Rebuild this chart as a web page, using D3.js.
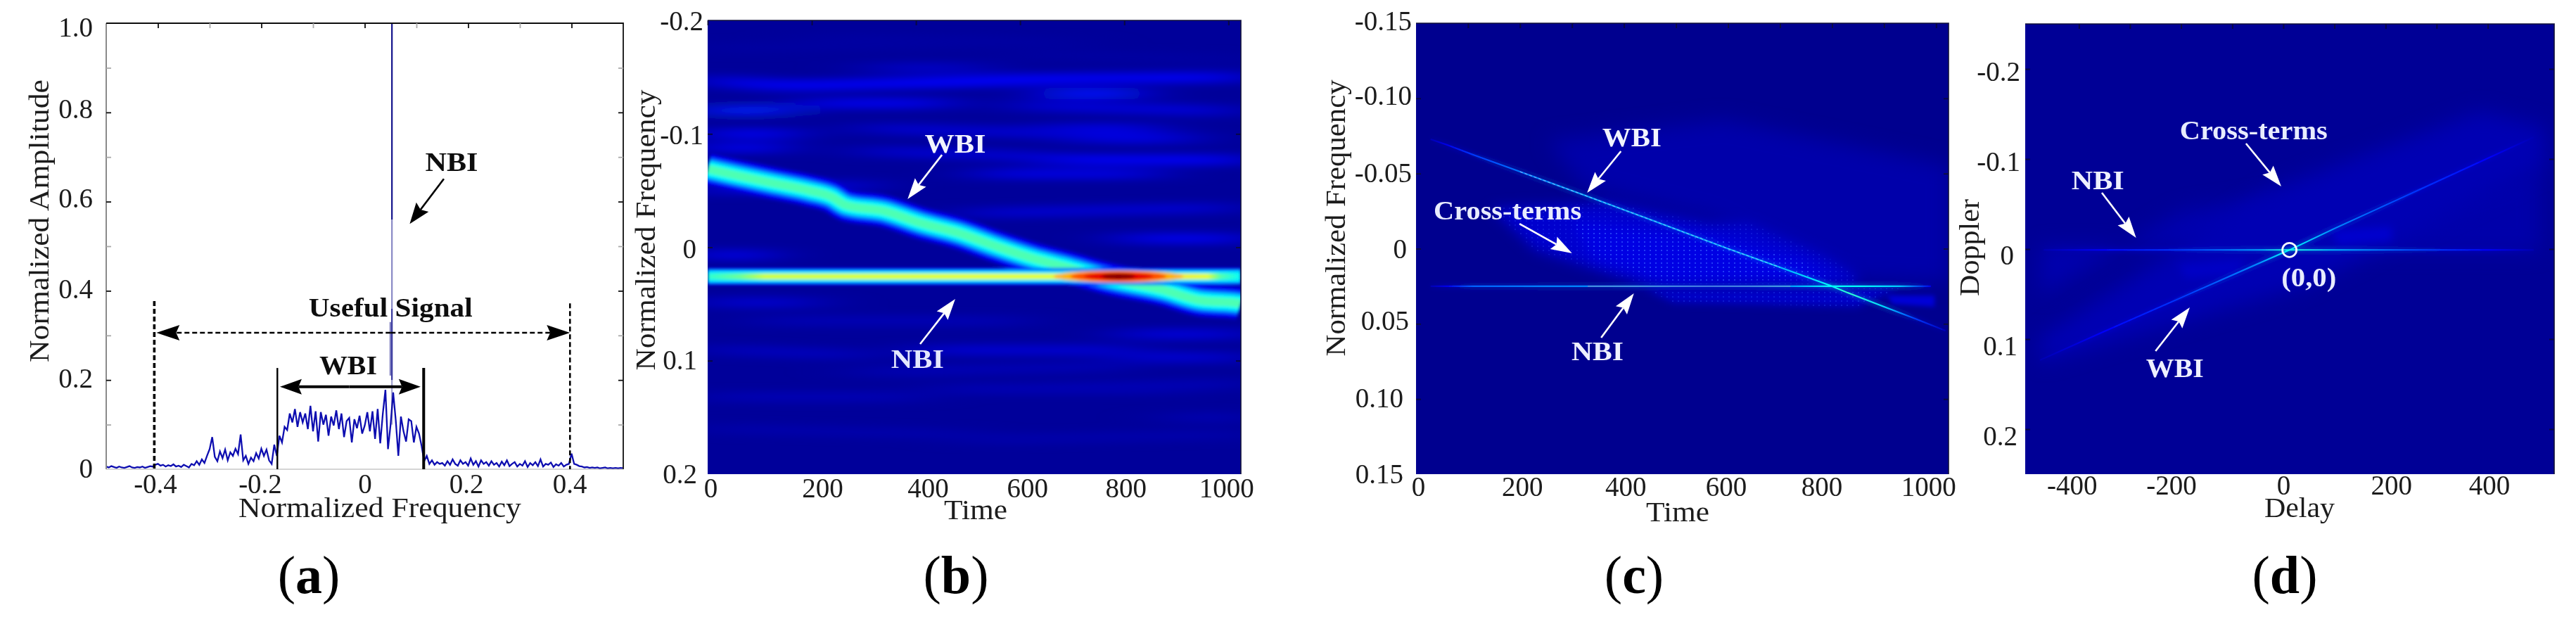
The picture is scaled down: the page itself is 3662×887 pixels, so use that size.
<!DOCTYPE html>
<html>
<head>
<meta charset="utf-8">
<script src="https://cdn.jsdelivr.net/npm/d3@7"></script>
<style>
  html, body { margin: 0; padding: 0; background: #fff; }
  svg { display: block; }
  text { font-family: "Liberation Serif", serif; }
</style>
</head>
<body>
<div id="chart"></div>
<script>
// ---- (a) spectrum, one value every 0.005 starting at -0.5
var specStart = -0.5, specStep = 0.005;
var specAmp = [
  .006,.004,.007,.005,.003,.006,.004,.003,.005,.007,.004,.003,.005,.004,.006,.003,.005,.007,.006,.010,
  .012,.008,.010,.006,.009,.007,.011,.006,.008,.005,.010,.007,.004,.012,.009,.018,.010,.022,.014,.030,
  .045,.072,.028,.018,.040,.025,.044,.020,.038,.030,.046,.034,.078,.020,.030,.012,.026,.018,.036,.024,
  .046,.030,.044,.020,.012,.055,.030,.075,.060,.095,.088,.125,.105,.135,.095,.128,.105,.125,.090,.142,
  .085,.130,.062,.128,.100,.122,.075,.118,.098,.132,.090,.125,.072,.108,.115,.060,.112,.092,.120,.080,
  .098,.128,.085,.130,.068,.135,.058,.125,.178,.045,.100,.172,.110,.030,.118,.085,.062,.112,.108,.060,
  .095,.080,.052,.018,.030,.012,.020,.010,.016,.012,.014,.008,.018,.010,.022,.012,.008,.020,.012,.016,
  .008,.024,.010,.018,.006,.020,.012,.016,.008,.018,.010,.014,.006,.017,.009,.020,.007,.012,.016,.006,
  .012,.008,.018,.005,.014,.009,.016,.007,.022,.006,.012,.010,.015,.005,.011,.008,.014,.006,.010,.012,
  .035,.012,.010,.007,.006,.004,.005,.003,.004,.003,.004,.002,.003,.004,.002,.003,.002,.003,.002,.003,.002
];
// narrowband spike, drawn in pieces because it fades in the middle
var spikeFreq    = [.0526, .0526, .0526, .0495, .0526];
var spikeTop     = [1.0,   .56,   .36,   .33,   .20];
var spikeBottom  = [.56,   .36,   .20,   .21,   .10];
var spikeOpacity = [1,     .5,    .85,   .55,   .4];

var ampTicks = [0, .2, .4, .6, .8, 1], ampTickLabels = ["0", "0.2", "0.4", "0.6", "0.8", "1.0"];
var specTicks = [-.4, -.2, 0, .2, .4], specTickLabels = ["-0.4", "-0.2", "0", "0.2", "0.4"];

// ---- (b) ridges
var wbiTime = [0, 53, 124, 195, 238, 266, 338, 409, 481, 553, 624, 696, 768, 874, 946, 1018, 1024];
var wbiFreq = [-.069, -.0636, -.0567, -.050, -.0445, -.037, -.032, -.0214, -.0127, -.001, .0096, .0183, .0276, .0375, .0468, .0493, .050];
var nbiFreq = 0.0257;
var nbiTime  = [0, 60, 110, 500, 680, 720, 880, 960, 985, 1024];
var nbiLevel = [.42, .48, .58, .60, .60, .65, .65, .60, .46, .38];
// the hot spot where both ridges cross: level, half width in time, half width in frequency
var blobTime = 789;
var blobLevel = [.70, .80, .90, 1.0];
var blobHalfT = [125, 92, 66, 32];
var blobHalfF = [.0052, .0043, .0034, .0023];
// faint background streaks
var streakT0 = [5, 130, 400, 670, 655, 190, 5, 12, 5, 655, 655, 710, 525, 320, 0, 409, 0, 800, 800, 800, 900, 0, 100, 450,
  0, 500, 300, 0, 600, 200, 600, 0, 0, 500, 300, 300, 600];
var streakF0 = [-.148, -.142, -.145, -.1485, -.1355, -.127, -.1206, -.100, -.0877, -.1045, -.077, -.096, -.0648, -.158, .0487, .0907, .132, -.0077, .0766, .097, .150, .0068, .065, .125,
  .16, .17, .11, .09, .125, -.185, -.17, -.175, -.05, -.03, -.105, -.085, -.125];
var streakT1 = [130, 400, 670, 1020, 820, 455, 140, 155, 130, 855, 1022, 920, 855, 520, 195, 815, 400, 1020, 1020, 1020, 1020, 100, 600, 900,
  500, 1024, 800, 300, 1024, 700, 1024, 500, 300, 1000, 700, 650, 1000];
var streakF1 = [-.142, -.145, -.1485, -.150, -.1355, -.127, -.1206, -.100, -.0877, -.1045, -.077, -.096, -.0648, -.158, .0487, .0907, .132, -.0077, .0766, .097, .150, .0068, .065, .125,
  .165, .165, .105, .095, .12, -.18, -.165, -.18, -.055, -.035, -.10, -.08, -.12];
var streakLevel = [.11, .11, .12, .11, .14, .10, .16, .11, .11, .09, .11, .09, .09, .06, .07, .07, .04, .10, .08, .07, .04, .11, .04, .04,
  .03, .03, .04, .05, .04, .02, .02, .02, .08, .07, .07, .07, .08];

// ---- (c) Wigner-Ville ridges and cross-term regions
var wvdTime  = [28, 60, 110, 200, 322, 450, 600, 700, 797, 830, 900, 960, 1018];
var wvdFreq  = [-.0728, -.069, -.0625, -.0512, -.0358, -.0194, 0, .0124, .0246, .0293, .0386, .0466, .0545];
var wvdLevel = [.04, .10, .18, .24, .28, .28, .28, .30, .38, .42, .34, .18, .05];
var wvdNbiFreq  = 0.025;
var wvdNbiTime  = [28, 60, 110, 250, 420, 560, 640, 720, 800, 850, 930, 990];
var wvdNbiLevel = [.04, .10, .22, .25, .26, .22, .24, .28, .38, .38, .32, .10];
var crossMain  = [[145,-.0269],[372,-.0306],[564,-.0171],[640,-.0171],[783,.004],[848,.018],[848,.0236],[444,.0236],[372,.017],[229,.0012]];
var crossInner = [[300,-.018],[564,-.008],[740,.008],[800,.020],[480,.022],[340,.006]];
var crossLower = [[442,.0274],[929,.0264],[848,.0386],[496,.0358]];
var crossFan   = [[253,-.0718],[591,-.0859],[1024,-.0555],[1024,.0218],[821,.0194],[564,-.0203],[321,-.0414]];
var crossEnd   = [[906,.0311],[997,.0311],[997,.0386],[916,.0367]];

// ---- (d) ambiguity function
var ambDelay   = [-476, -350, -200, -50, 12, 100, 250, 400, 490];
var ambDoppler = [.1234, .0914, .054, .0164, .001, -.0227, -.0617, -.1008, -.1242];
var ambLevel   = [.04, .12, .18, .26, .38, .26, .18, .12, .04];
var ambNbiDoppler = 0.001;
var ambNbiDelay = [-469, -350, -200, -50, 12, 100, 250, 400, 490];
var ambNbiLevel = [.04, .13, .18, .28, .40, .30, .20, .12, .04];
var ambGlow   = [[-476,.0992],[-30,-.0648],[387,-.1531],[511,-.1352],[511,-.0906],[39,.0414],[-476,.1258]];
var ambUpper  = [[-476,.0516],[-201,-.0422],[-22,-.0578],[-22,-.003],[-476,-.003]];
var ambLower  = [[47,.003],[501,.003],[501,-.089],[281,-.05]];
var ambSpot1  = [[94,-.0203],[212,-.025],[212,-.0094],[107,-.0047]];
var ambSpot2  = [[-205,.0172],[-73,.0109],[-94,.0281],[-191,.0328]];

var timeTicks = [0, 200, 400, 600, 800, 1000];
var delayTicks = [-400, -200, 0, 200, 400];

// ---- layout
var W = 3662, H = 887;
var TICK_FONT = 39, NOTE_FONT = 38;

// jet colormap, the image colours come out of this
var jet = d3.scaleLinear()
  .domain([0, .125, .375, .625, .875, 1])
  .range(["#00008f", "#0000ff", "#00ffff", "#ffff00", "#ff0000", "#800000"]);

var svg = d3.select("#chart").append("svg").attr("width", W).attr("height", H);
var defs = svg.append("defs");

function addBlur(id, dev) {
  defs.append("filter").attr("id", id)
    .attr("filterUnits", "userSpaceOnUse")
    .attr("x", 0).attr("y", 0).attr("width", W).attr("height", H)
    .append("feGaussianBlur").attr("stdDeviation", dev);
}
addBlur("soft", 0.7);
addBlur("blur1", 2);
addBlur("blur3", 3);
addBlur("blur5", 6);
addBlur("blur8", 9);
addBlur("blur10", 14);
addBlur("smear", "45 6");

var dots = defs.append("pattern").attr("id", "dots")
  .attr("patternUnits", "userSpaceOnUse").attr("width", 8).attr("height", 6);
dots.append("circle").attr("cx", 2).attr("cy", 2).attr("r", 1.1).attr("fill", "#2f5cff");

var root = svg.append("g").attr("filter", "url(#soft)");

// a horizontal gradient so a line can change level along its length
function levelGradient(id, x, xs, levels) {
  var grad = defs.append("linearGradient").attr("id", id)
    .attr("gradientUnits", "userSpaceOnUse")
    .attr("x1", x(xs[0])).attr("x2", x(xs[xs.length - 1]))
    .attr("y1", 0).attr("y2", 0);
  xs.forEach(function(v, i) {
    grad.append("stop")
      .attr("offset", (v - xs[0]) / (xs[xs.length - 1] - xs[0]))
      .attr("stop-color", jet(levels[i]));
  });
  return "url(#" + id + ")";
}

function makePanel(name, box, xDomain, yDomain) {
  var p = { name: name, box: box };
  p.x = d3.scaleLinear().domain(xDomain).range([box.left, box.right]);
  p.y = d3.scaleLinear().domain(yDomain).range([box.top, box.bottom]);
  p.line = d3.line().x(function(d) { return p.x(d[0]); }).y(function(d) { return p.y(d[1]); });
  defs.append("clipPath").attr("id", "clip-" + name).append("rect")
    .attr("x", box.left).attr("y", box.top)
    .attr("width", box.right - box.left).attr("height", box.bottom - box.top);
  p.g = root.append("g");
  p.plot = p.g.append("g").attr("clip-path", "url(#clip-" + name + ")");
  return p;
}

function tickAxes(p, xVals, yVals, colorOf) {
  var box = p.box;
  var top = p.g.append("g").attr("transform", "translate(0," + box.top + ")")
    .call(d3.axisTop(p.x).tickValues(xVals).tickSize(-7).tickFormat(""));
  var right = p.g.append("g").attr("transform", "translate(" + box.right + ",0)")
    .call(d3.axisRight(p.y).tickValues(yVals).tickSize(-7).tickFormat(""));
  var left = p.g.append("g").attr("transform", "translate(" + box.left + ",0)")
    .call(d3.axisLeft(p.y).tickValues(yVals).tickSize(-7).tickFormat(""));
  [top, right, left].forEach(function(a) {
    a.select(".domain").remove();
    a.selectAll("text").remove();
    a.selectAll("line").attr("stroke", colorOf).attr("stroke-width", 1.8);
  });
}

function labelAxes(p, o) {
  var bottom = p.g.append("g").attr("transform", "translate(0," + o.xBase + ")")
    .call(d3.axisBottom(p.x).tickValues(o.xTicks).tickSize(0)
      .tickFormat(function(d, i) { return o.xLabels[i]; }));
  bottom.select(".domain").remove();
  bottom.selectAll("text")
    .attr("y", 0).attr("dy", 0)
    .attr("dx", function(d, i) { return o.xNudge[i]; });
  var left = p.g.append("g").attr("transform", "translate(" + p.box.left + ",0)")
    .call(d3.axisLeft(p.y).tickValues(o.yTicks).tickSize(0)
      .tickFormat(function(d, i) { return o.yLabels[i]; }));
  left.select(".domain").remove();
  left.selectAll("text")
    .attr("x", function(d, i) { return -o.yGap - (o.yGapExtra ? o.yGapExtra[i] : 0); })
    .attr("dy", function(d, i) { return 13 + o.yNudge[i]; });
  [bottom, left].forEach(function(a) {
    a.attr("font-family", null).attr("font-size", null);
    a.selectAll("text").attr("font-size", TICK_FONT).attr("fill", "#1c1c1c");
  });
}

function axisTitle(p, text, x, y, len, rotated) {
  var t = p.g.append("text")
    .attr("text-anchor", "middle")
    .attr("font-size", TICK_FONT).attr("fill", "#1c1c1c")
    .attr("textLength", len).attr("lengthAdjust", "spacingAndGlyphs")
    .text(text);
  if (rotated) t.attr("transform", "translate(" + x + "," + y + ") rotate(-90)");
  else t.attr("x", x).attr("y", y);
}

// annotation text placed in data units
function note(p, text, dx, dy, len, color) {
  p.g.append("text")
    .attr("x", p.x(dx)).attr("y", p.y(dy)).attr("text-anchor", "middle")
    .attr("font-size", NOTE_FONT).attr("font-weight", "bold").attr("fill", color)
    .attr("textLength", len).attr("lengthAdjust", "spacingAndGlyphs")
    .text(text);
}

// arrow with a notched head, ends given in data units
function arrow(p, from, to, color, shaft, headLen, headHalf, dash) {
  var x0 = p.x(from[0]), y0 = p.y(from[1]), x1 = p.x(to[0]), y1 = p.y(to[1]);
  var a = Math.atan2(y1 - y0, x1 - x0), c = Math.cos(a), s = Math.sin(a);
  var bx = x1 - c * headLen, by = y1 - s * headLen;
  var nx = x1 - c * headLen * 0.85, ny = y1 - s * headLen * 0.85;
  var line = p.g.append("line")
    .attr("x1", x0).attr("y1", y0).attr("x2", nx).attr("y2", ny)
    .attr("stroke", color).attr("stroke-width", shaft);
  if (dash) line.attr("stroke-dasharray", dash);
  p.g.append("polygon")
    .attr("points", [[x1, y1], [bx - s * headHalf, by + c * headHalf], [nx, ny], [bx + s * headHalf, by - c * headHalf]].join(" "))
    .attr("fill", color);
}

function caption(cx, letter) {
  var t = root.append("text").attr("x", cx).attr("y", 843)
    .attr("text-anchor", "middle").attr("font-size", 76).attr("fill", "#000");
  t.append("tspan").text("(");
  t.append("tspan").attr("font-weight", "bold").text(letter);
  t.append("tspan").text(")");
}

function region(p, pts, level, blur) {
  p.plot.append("path")
    .attr("d", p.line(pts) + "Z")
    .attr("fill", jet(level)).attr("filter", "url(#" + blur + ")");
}

function imageBackground(p, level) {
  p.plot.append("rect")
    .attr("x", p.box.left).attr("y", p.box.top)
    .attr("width", p.box.right - p.box.left).attr("height", p.box.bottom - p.box.top)
    .attr("fill", jet(level));
}

function imageFrame(p) {
  var b = p.box;
  p.g.append("path")
    .attr("d", "M" + b.left + "," + b.top + "H" + b.right + "V" + b.bottom)
    .attr("fill", "none").attr("stroke", "#0a0a3a").attr("stroke-width", 1.6);
}

// ======== (a) ========
var pa = makePanel("a", { left: 151, right: 886, top: 33, bottom: 667 }, [-.5, .5], [1, 0]);

pa.g.append("path").attr("d", "M151,33V667").attr("stroke", "#8a8a8a").attr("stroke-width", 2).attr("fill", "none");
pa.g.append("path").attr("d", "M151,33H886V667").attr("stroke", "#111").attr("stroke-width", 1.8).attr("fill", "none");
pa.g.append("path").attr("d", "M151,667H886").attr("stroke", "#aaa").attr("stroke-width", 1).attr("fill", "none");
tickAxes(pa, d3.range(-4, 5).map(function(d) { return d / 10; }), d3.range(1, 10).map(function(d) { return d / 10; }),
  function(d) { return Math.round(d * 10) % 2 === 0 ? "#111" : "#aaa"; });

var specData = specAmp.map(function(v, i) { return [specStart + i * specStep, v]; });
pa.plot.append("path").attr("d", pa.line(specData))
  .attr("fill", "none").attr("stroke", "#1010b0").attr("stroke-width", 2.3);
spikeFreq.forEach(function(f, i) {
  pa.plot.append("line")
    .attr("x1", pa.x(f)).attr("x2", pa.x(f))
    .attr("y1", pa.y(spikeTop[i])).attr("y2", pa.y(spikeBottom[i]))
    .attr("stroke", "#14148c").attr("stroke-width", 2.2).attr("opacity", spikeOpacity[i]);
});

// useful signal span
[[-.407, .377], [.397, .372]].forEach(function(d, i) {
  pa.g.append("line")
    .attr("x1", pa.x(d[0])).attr("x2", pa.x(d[0]))
    .attr("y1", pa.y(d[1])).attr("y2", pa.y(0))
    .attr("stroke", "#000").attr("stroke-width", i === 0 ? 3.6 : 2.6)
    .attr("stroke-dasharray", "7 4");
});
arrow(pa, [.05, .306], [-.403, .306], "#000", 2.6, 33, 11, "7 4");
arrow(pa, [.05, .306], [.397, .306], "#000", 2.6, 33, 11, "7 4");
// WBI span
pa.g.append("line").attr("x1", pa.x(-.169)).attr("x2", pa.x(-.169)).attr("y1", pa.y(.227)).attr("y2", pa.y(0))
  .attr("stroke", "#000").attr("stroke-width", 2.4);
pa.g.append("line").attr("x1", pa.x(.114)).attr("x2", pa.x(.114)).attr("y1", pa.y(.227)).attr("y2", pa.y(0))
  .attr("stroke", "#000").attr("stroke-width", 4);
arrow(pa, [-.03, .185], [-.164, .185], "#000", 4, 31, 11);
arrow(pa, [-.03, .185], [.108, .185], "#000", 4, 31, 11);
arrow(pa, [.153, .651], [.087, .55], "#000", 2.6, 30, 11);

note(pa, "NBI", .168, .668, 75, "#111");
note(pa, "Useful Signal", .05, .342, 233, "#111");
note(pa, "WBI", -.032, .213, 82, "#111");

labelAxes(pa, {
  xBase: 701, xTicks: specTicks, xLabels: specTickLabels, xNudge: [-4, -2, 0, -3, -3],
  yTicks: ampTicks, yLabels: ampTickLabels, yGap: 19, yNudge: [-2, -3, -3, -5, -5, 5]
});
axisTitle(pa, "Normalized Frequency", 540, 735, 402);
axisTitle(pa, "Normalized Amplitude", 69, 314, 402, true);
caption(439, "a");

// ======== (b) ========
var pb = makePanel("b", { left: 1006, right: 1764, top: 29, bottom: 674 }, [0, 1024], [-.2, .2]);
imageBackground(pb, .012);

var streaks = pb.plot.append("g").attr("filter", "url(#smear)");
streakT0.forEach(function(t, i) {
  streaks.append("line")
    .attr("x1", pb.x(t)).attr("y1", pb.y(streakF0[i]))
    .attr("x2", pb.x(streakT1[i])).attr("y2", pb.y(streakF1[i]))
    .attr("stroke", jet(streakLevel[i])).attr("stroke-width", 15).attr("stroke-linecap", "round");
});

var hot = pb.plot.append("g").attr("filter", "url(#blur1)");
var ridgeLine = d3.line().curve(d3.curveMonotoneX)
  .x(function(d) { return pb.x(d[0]); }).y(function(d) { return pb.y(d[1]); });
var ridge = ridgeLine(d3.zip(wbiTime, wbiFreq));
[[.06, 48], [.12, 41], [.22, 33], [.32, 26], [.38, 19], [.45, 12]].forEach(function(l) {
  hot.append("path").attr("d", ridge).attr("fill", "none")
    .attr("stroke", jet(l[0])).attr("stroke-width", l[1]);
});
var nbiPath = pb.line([[0, nbiFreq], [1024, nbiFreq]]);
[[.125, 24], [.26, 20], [.36, 15]].forEach(function(l) {
  hot.append("path").attr("d", nbiPath).attr("fill", "none")
    .attr("stroke", jet(l[0])).attr("stroke-width", l[1]);
});
hot.append("path").attr("d", nbiPath).attr("fill", "none")
  .attr("stroke", levelGradient("nbi-b", pb.x, nbiTime, nbiLevel)).attr("stroke-width", 8);
blobLevel.forEach(function(lv, i) {
  hot.append("ellipse")
    .attr("cx", pb.x(blobTime)).attr("cy", pb.y(nbiFreq))
    .attr("rx", pb.x(blobHalfT[i]) - pb.x(0))
    .attr("ry", pb.y(blobHalfF[i]) - pb.y(0))
    .attr("fill", jet(lv));
});

imageFrame(pb);
tickAxes(pb, timeTicks, [-.1, 0, .1], function() { return "#0a0a3a"; });
arrow(pb, [450, -.0815], [384, -.0425], "#fff", 2.6, 30, 10);
arrow(pb, [408, .0853], [475.5, .0456], "#fff", 2.6, 30, 10);
note(pb, "WBI", 475.5, -.0834, 87, "#f2f4ff");
note(pb, "NBI", 403, .1064, 75, "#e4e8ff");

labelAxes(pb, {
  xBase: 707, xTicks: timeTicks, xLabels: timeTicks.map(String), xNudge: [4, 15, 17, 10, 2, -3],
  yTicks: [-.2, -.1, 0, .1, .2], yLabels: ["-0.2", "-0.1", "0", "0.1", "0.2"], yGap: 6, yGapExtra: [0, 0, 10, 9, 9], yNudge: [0, 1, 2, -1, -1]
});
axisTitle(pb, "Time", 1387, 738, 90);
axisTitle(pb, "Normalized Frequency", 931, 327, 399, true);
caption(1359, "b");

// ======== (c) ========
var pc = makePanel("c", { left: 2013, right: 2770, top: 33, bottom: 674 }, [0, 1024], [-.15, .15]);
imageBackground(pc, 0);
region(pc, crossFan, .03, "blur10");
region(pc, crossMain, .07, "blur8");
region(pc, crossInner, .095, "blur8");
region(pc, crossLower, .065, "blur5");
region(pc, crossEnd, .08, "blur3");
pc.plot.append("path").attr("d", pc.line(crossInner) + "Z").attr("fill", "url(#dots)").attr("opacity", .7);
pc.plot.append("path").attr("d", pc.line(crossMain) + "Z").attr("fill", "url(#dots)").attr("opacity", .3);
pc.plot.append("path").attr("d", pc.line(crossLower) + "Z").attr("fill", "url(#dots)").attr("opacity", .4);

var wvdPts = d3.zip(wvdTime, wvdFreq);
var wvdNbiPts = [[wvdNbiTime[0], wvdNbiFreq], [wvdNbiTime[wvdNbiTime.length - 1], wvdNbiFreq]];
var wvdStroke = levelGradient("wbi-c", pc.x, wvdTime, wvdLevel);
var wvdNbiStroke = levelGradient("nbi-c", pc.x, wvdNbiTime, wvdNbiLevel);
pc.plot.append("path").attr("d", pc.line(wvdPts)).attr("fill", "none")
  .attr("stroke", wvdStroke).attr("stroke-width", 6).attr("opacity", .25).attr("filter", "url(#blur3)");
pc.plot.append("path").attr("d", pc.line(wvdNbiPts)).attr("fill", "none")
  .attr("stroke", wvdNbiStroke).attr("stroke-width", 6).attr("opacity", .25).attr("filter", "url(#blur3)");
pc.plot.append("path").attr("d", pc.line(wvdPts)).attr("fill", "none")
  .attr("stroke", wvdStroke).attr("stroke-width", 2.1);
pc.plot.append("path").attr("d", pc.line(wvdNbiPts)).attr("fill", "none")
  .attr("stroke", wvdNbiStroke).attr("stroke-width", 2.1);
// the middle of both lines goes pale and a bit grey in the picture
pc.plot.append("path").attr("d", pc.line(wvdPts.slice(3, 8))).attr("fill", "none")
  .attr("stroke", "#fff").attr("stroke-width", 1.4).attr("stroke-dasharray", "4 3").attr("opacity", .35);
pc.plot.append("path").attr("d", pc.line([[330, wvdNbiFreq], [720, wvdNbiFreq]])).attr("fill", "none")
  .attr("stroke", "#d0a0a8").attr("stroke-width", 1.4).attr("opacity", .55);

imageFrame(pc);
tickAxes(pc, d3.range(100, 1001, 100), [-.1, -.05, 0, .05, .1], function() { return "#0a0a3a"; });
arrow(pc, [394, -.0648], [329, -.0372], "#fff", 2.6, 30, 10);
arrow(pc, [199, -.0166], [300, .003], "#fff", 2.6, 30, 10);
arrow(pc, [356, .0592], [419, .0297], "#fff", 2.6, 30, 10);
note(pc, "WBI", 415, -.068, 84, "#f2f4ff");
note(pc, "Cross-terms", 176, -.0194, 210, "#e8ecff");
note(pc, "NBI", 349, .0742, 74, "#eef0ff");

labelAxes(pc, {
  xBase: 705, xTicks: timeTicks, xLabels: timeTicks.map(String), xNudge: [3, 3, 2, -3, -15, -11],
  yTicks: [-.15, -.10, -.05, 0, .05, .10, .15], yLabels: ["-0.15", "-0.10", "-0.05", "0", "0.05", "0.10", "0.15"],
  yGap: 6, yGapExtra: [0, 0, 0, 7, 4, 12, 12], yNudge: [-4, -4, -1, 0, -5, -2, -1]
});
axisTitle(pc, "Time", 2385, 741, 90);
axisTitle(pc, "Normalized Frequency", 1912, 310, 393, true);
caption(2323, "c");

// ======== (d) ========
var pd = makePanel("d", { left: 2879, right: 3631, top: 34, bottom: 674 }, [-505, 530], [-.25, .25]);
imageBackground(pd, .008);
region(pd, ambUpper, .035, "blur10");
region(pd, ambLower, .03, "blur10");
region(pd, ambGlow, .04, "blur10");
region(pd, ambSpot1, .07, "blur5");
region(pd, ambSpot2, .06, "blur5");

var ambPts = d3.zip(ambDelay, ambDoppler);
var ambNbiPts = [[ambNbiDelay[0], ambNbiDoppler], [ambNbiDelay[ambNbiDelay.length - 1], ambNbiDoppler]];
var ambStroke = levelGradient("wbi-d", pd.x, ambDelay, ambLevel);
var ambNbiStroke = levelGradient("nbi-d", pd.x, ambNbiDelay, ambNbiLevel);
pd.plot.append("path").attr("d", pd.line(ambPts)).attr("fill", "none")
  .attr("stroke", ambStroke).attr("stroke-width", 6).attr("opacity", .25).attr("filter", "url(#blur3)");
pd.plot.append("path").attr("d", pd.line(ambNbiPts)).attr("fill", "none")
  .attr("stroke", ambNbiStroke).attr("stroke-width", 6).attr("opacity", .25).attr("filter", "url(#blur3)");
pd.plot.append("path").attr("d", pd.line(ambPts)).attr("fill", "none")
  .attr("stroke", ambStroke).attr("stroke-width", 2);
pd.plot.append("path").attr("d", pd.line(ambNbiPts)).attr("fill", "none")
  .attr("stroke", ambNbiStroke).attr("stroke-width", 2);

imageFrame(pd);
tickAxes(pd, d3.range(-400, 401, 100), [-.2, -.1, 0, .1, .2], function() { return "#0a0a3a"; });
pd.g.append("circle").attr("cx", pd.x(12)).attr("cy", pd.y(.001)).attr("r", 10)
  .attr("fill", "none").attr("stroke", "#f4f8ff").attr("stroke-width", 2.8);
arrow(pd, [-73, -.1172], [-4, -.0695], "#fff", 2.6, 30, 10);
arrow(pd, [-355, -.0625], [-288, -.0125], "#fff", 2.6, 30, 10);
arrow(pd, [-250, .1133], [-183, .0648], "#fff", 2.6, 30, 10);
note(pd, "Cross-terms", -58, -.1219, 210, "#e8ecff");
note(pd, "NBI", -363, -.0664, 75, "#eef0ff");
note(pd, "WBI", -212, .1422, 82, "#eef0ff");
note(pd, "(0,0)", 50, .0414, 78, "#e8ecff");

labelAxes(pd, {
  xBase: 703, xTicks: delayTicks, xLabels: delayTicks.map(String), xNudge: [-10, -14, 0, 8, 2],
  yTicks: [-.2, -.1, 0, .1, .2], yLabels: ["-0.2", "-0.1", "0", "0.1", "0.2"], yGap: 7, yGapExtra: [0, 0, 9, 4, 4], yNudge: [3, 3, 8, 9, 9]
});
axisTitle(pd, "Delay", 3269, 735, 100);
axisTitle(pd, "Doppler", 2813, 352, 138, true);
caption(3248, "d");
</script>
</body>
</html>
